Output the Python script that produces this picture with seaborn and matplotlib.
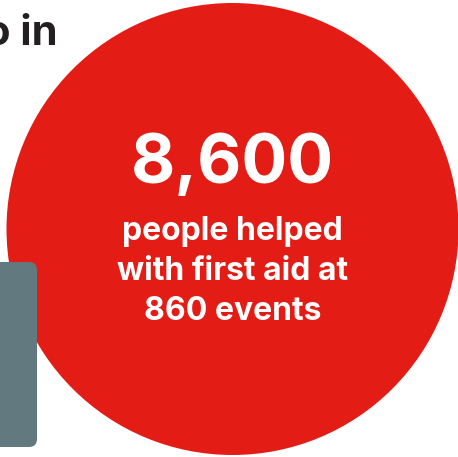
import matplotlib
matplotlib.use("Agg")
import matplotlib.pyplot as plt
from matplotlib.patches import Circle, FancyBboxPatch
import seaborn as sns

# data
people_helped = [8600]
events = [860]
headline_fragment = ["o in"]
label_lines = ["people helped", "with first aid at", "{} events"]

sns.set_theme(style="white")
plt.rcParams['font.family'] = ['Inter', 'DejaVu Sans']

RED = "#e31d16"
GREY = "#627a7f"
DARK = "#231f20"

fig = plt.figure(figsize=(4.58, 4.57), dpi=100)
ax = fig.add_axes([0, 0, 1, 1])
ax.set_xlim(0, 458)
ax.set_ylim(457, 0)
ax.axis("off")

ax.add_patch(Circle((232.5, 229), 226, facecolor=RED, edgecolor="none", zorder=1))
ax.add_patch(FancyBboxPatch((-20, 270), 49, 169, boxstyle="round,pad=0,rounding_size=8",
                            facecolor=GREY, edgecolor="none", zorder=2))
ax.add_patch(FancyBboxPatch((-20, 262), 57, 185, boxstyle="round,pad=0,rounding_size=8",
                            facecolor=GREY, edgecolor="none", zorder=2))

ax.text(58, 45, headline_fragment[0], ha="right", va="baseline", fontsize=30,
        fontweight="bold", color=DARK, zorder=3)

ax.text(232.5, 183, f"{people_helped[0]:,}", ha="center", va="baseline", fontsize=49,
        fontweight="bold", color="white", zorder=3)
baselines = [240, 280, 320]
for line, yb in zip(label_lines, baselines):
    ax.text(232.5, yb, line.format(events[0]), ha="center", va="baseline", fontsize=23,
            fontweight="bold", color="white", zorder=3)

fig.savefig("out.png", dpi=100)
